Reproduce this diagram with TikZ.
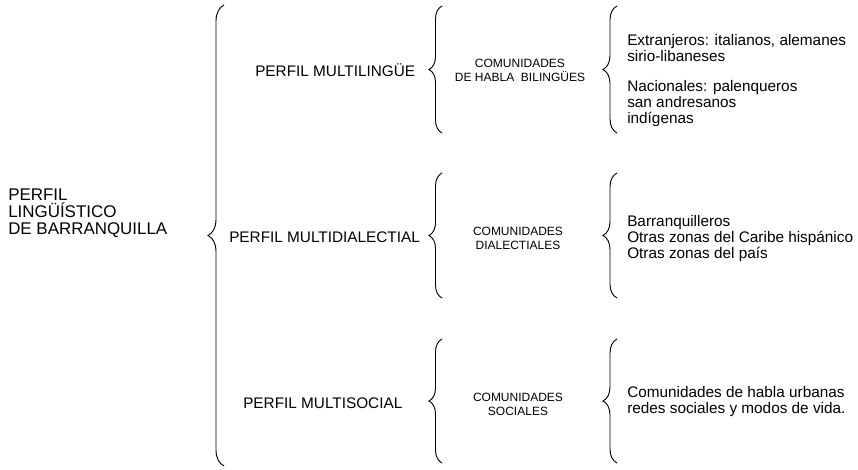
\documentclass[tikz,border=0pt]{standalone}
\usepackage{fontspec}
\setmainfont{Liberation Sans}
\usetikzlibrary{decorations.pathreplacing}

\begin{document}
\begin{tikzpicture}[x=0.75pt,y=-0.75pt,
    txt/.style={inner sep=0pt,anchor=west,align=left,font=\fontsize{11.5}{12}\selectfont},
    sml/.style={inner sep=0pt,align=center,font=\fontsize{9}{10.5}\selectfont},
    brc/.style={decorate,decoration={brace,amplitude=#1},line width=0.7pt}]
                \useasboundingbox (0,0) rectangle (858,469);

                \node[txt,font=\fontsize{12.7}{12.8}\selectfont] (root) at (8,213.5) {PERFIL\\LINGÜÍSTICO\\DE BARRANQUILLA};

                \node[txt] (ling) at (255,70) {PERFIL MULTILINGÜE};
                \node[txt] (dial) at (229,237) {PERFIL MULTIDIALECTIAL};
                \node[txt] (soc) at (243,403) {PERFIL MULTISOCIAL};

                \node[sml] (cling) at (520,70) {COMUNIDADES\\DE HABLA\ \ BILINGÜES};
                \node[sml] (cdial) at (518,238) {COMUNIDADES\\DIALECTIALES};
                \node[sml] (csoc) at (518,404) {COMUNIDADES\\SOCIALES};

                \node[txt] (ext) at (627,48) {Extranjeros: italianos, alemanes\\sirio-libaneses};
                \node[txt] (nac) at (627,104) {Nacionales: palenqueros\\san andresanos\\indígenas};
                \node[txt] (reg) at (627,239) {Barranquilleros\\Otras zonas del Caribe hispánico\\Otras zonas del país};
                \node[txt] (urb) at (627,402) {Comunidades de habla urbanas\\redes sociales y modos de vida.};

                % brace ends
                \coordinate (b0t) at (224,5);
                \coordinate (b0b) at (224,466);
                \coordinate (b1t) at (442,6);
                \coordinate (b1b) at (442,133);
                \coordinate (b2t) at (442,173);
                \coordinate (b2b) at (442,298);
                \coordinate (b3t) at (442,339);
                \coordinate (b3b) at (442,463);
                \coordinate (c1t) at (617,6);
                \coordinate (c1b) at (617,133);
                \coordinate (c2t) at (617,173);
                \coordinate (c2b) at (617,298);
                \coordinate (c3t) at (617,339);
                \coordinate (c3b) at (617,463);

                \draw[brc=12pt] (b0b) -- (b0t);

                \draw[brc=9.75pt] (b1b) -- (b1t);
                \draw[brc=9.75pt] (b2b) -- (b2t);
                \draw[brc=9.75pt] (b3b) -- (b3t);

                \draw[brc=10.5pt] (c1b) -- (c1t);
                \draw[brc=10.5pt] (c2b) -- (c2t);
                \draw[brc=10.5pt] (c3b) -- (c3t);
            \end{tikzpicture}
\end{document}
